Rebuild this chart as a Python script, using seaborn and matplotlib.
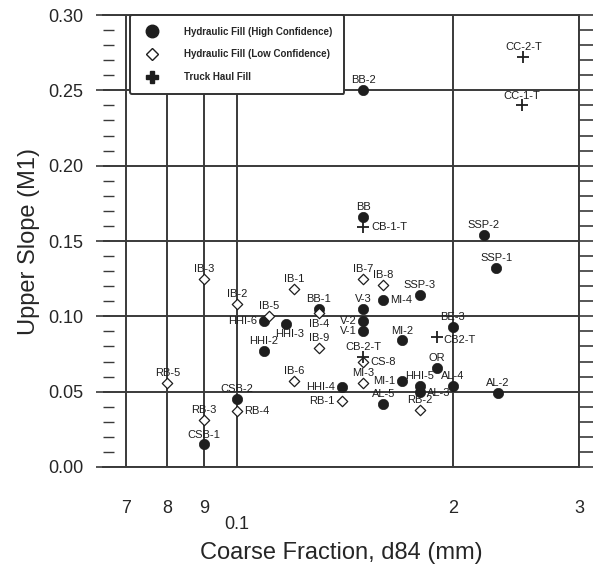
import numpy as np
import pandas as pd
import seaborn as sns
import matplotlib.pyplot as plt
from matplotlib.ticker import FixedLocator, FixedFormatter, MultipleLocator
from matplotlib.lines import Line2D

# hydraulic fill, high confidence (filled circles)
hi_names = ['BB-2', 'BB', 'SSP-2', 'SSP-1', 'SSP-3', 'MI-4', 'BE-3', 'V-3', 'V-2', 'V-1',
            'BB-1', 'MI-2', 'OR', 'AL-4', 'MI-1', 'HHI-5', 'AL-3', 'HHI-4', 'AL-5', 'AL-2',
            'HHI-6', 'HHI-3', 'HHI-2', 'CSB-2', 'CSB-1']
hi_d84 = [0.150, 0.150, 0.221, 0.230, 0.180, 0.160, 0.200, 0.150, 0.150, 0.150,
          0.130, 0.170, 0.190, 0.200, 0.170, 0.180, 0.180, 0.140, 0.160, 0.231,
          0.109, 0.117, 0.109, 0.100, 0.090]
hi_m1 = [0.250, 0.166, 0.154, 0.132, 0.114, 0.111, 0.093, 0.105, 0.097, 0.090,
         0.105, 0.084, 0.066, 0.054, 0.057, 0.054, 0.050, 0.053, 0.042, 0.049,
         0.097, 0.095, 0.077, 0.045, 0.015]

# hydraulic fill, low confidence (open diamonds)
lo_names = ['IB-3', 'IB-2', 'IB-1', 'IB-5', 'IB-7', 'IB-8', 'IB-4', 'IB-9', 'CS-8', 'IB-6',
            'RB-5', 'MI-3', 'RB-1', 'RB-2', 'RB-4', 'RB-3']
lo_d84 = [0.090, 0.100, 0.120, 0.111, 0.150, 0.160, 0.130, 0.130, 0.150, 0.120,
          0.080, 0.150, 0.140, 0.180, 0.100, 0.090]
lo_m1 = [0.125, 0.108, 0.118, 0.100, 0.125, 0.121, 0.102, 0.079, 0.070, 0.057,
         0.056, 0.056, 0.044, 0.038, 0.037, 0.031]

# truck haul fill (crosses)
th_names = ['CC-2-T', 'CC-1-T', 'CB-1-T', 'CB2-T', 'CB-2-T']
th_d84 = [0.251, 0.250, 0.150, 0.190, 0.150]
th_m1 = [0.272, 0.240, 0.159, 0.086, 0.073]

legend_labels = ['Hydraulic Fill (High Confidence)', 'Hydraulic Fill (Low Confidence)',
                 'Truck Haul Fill']
x_major = [0.1]
x_major_labels = ['0.1']
x_minor = [0.07, 0.08, 0.09, 0.2, 0.3]
x_minor_labels = ['7', '8', '9', '2', '3']

# labels that would sit on top of each other: (dx, dy in points, ha, va)
label_nudge = {
    'IB-4': (0, -4, 'center', 'top'),
    'V-2': (-5, 0, 'right', 'center'),
    'V-1': (-5, 0, 'right', 'center'),
    'CS-8': (5, 0, 'left', 'center'),
    'HHI-6': (-5, 0, 'right', 'center'),
    'HHI-3': (3, -4, 'center', 'top'),
    'AL-3': (5, -1, 'left', 'center'),
    'MI-1': (-5, 0, 'right', 'center'),
    'HHI-4': (-5, 0, 'right', 'center'),
    'RB-1': (-5, 0, 'right', 'center'),
    'CB-1-T': (6, 0, 'left', 'center'),
    'CB2-T': (5, -2, 'left', 'center'),
    'MI-4': (5, 0, 'left', 'center'),
    'RB-4': (5, 0, 'left', 'center'),
}

sns.set_style('white')
plt.rcParams['font.family'] = ['Liberation Sans', 'DejaVu Sans']

hi = pd.DataFrame({'name': hi_names, 'd84': hi_d84, 'm1': hi_m1})
lo = pd.DataFrame({'name': lo_names, 'd84': lo_d84, 'm1': lo_m1})
th = pd.DataFrame({'name': th_names, 'd84': th_d84, 'm1': th_m1})

fig = plt.figure(figsize=(6.05, 5.67), dpi=100)
ax = fig.add_axes([0.170, 0.1764, 0.787, 0.7971])

sns.scatterplot(data=hi, x='d84', y='m1', marker='o', s=55, color='#1e1e1e',
                edgecolor='#1e1e1e', linewidth=0.5, ax=ax, zorder=4, legend=False)
sns.scatterplot(data=lo, x='d84', y='m1', marker='D', s=28, facecolor='white',
                edgecolor='#1e1e1e', linewidth=0.9, ax=ax, zorder=4, legend=False)
sns.scatterplot(data=th, x='d84', y='m1', marker='+', s=75, color='#1e1e1e',
                linewidth=1.3, ax=ax, zorder=4, legend=False)

for df in (hi, lo, th):
    for _, r in df.iterrows():
        dx, dy, ha, va = label_nudge.get(r['name'], (0, 3.5, 'center', 'bottom'))
        ax.annotate(r['name'], (r['d84'], r['m1']), xytext=(dx, dy),
                    textcoords='offset points', ha=ha, va=va,
                    fontsize=8, color='#1e1e1e', zorder=5)

ax.set_xscale('log')
ax.set_xlim(0.065, 0.3)
ax.set_ylim(0, 0.30)

ax.xaxis.set_major_locator(FixedLocator(x_major))
ax.xaxis.set_major_formatter(FixedFormatter(x_major_labels))
ax.xaxis.set_minor_locator(FixedLocator(x_minor))
ax.xaxis.set_minor_formatter(FixedFormatter(x_minor_labels))
ax.yaxis.set_major_locator(MultipleLocator(0.05))
ax.yaxis.set_minor_locator(MultipleLocator(0.01))
ax.yaxis.set_major_formatter(plt.FormatStrFormatter('%.2f'))

gcol = '#3a3a3a'
ax.grid(True, axis='x', which='both', color=gcol, lw=1.4)
ax.grid(True, axis='y', which='major', color=gcol, lw=1.4)
ax.set_axisbelow(True)

for side in ['bottom', 'top', 'right']:
    ax.spines[side].set_color(gcol)
    ax.spines[side].set_linewidth(1.4)
ax.spines['left'].set_visible(False)

ax.tick_params(axis='x', which='major', direction='out', length=19, width=1.3,
               color=gcol, pad=16, labelsize=13)
ax.tick_params(axis='x', which='minor', direction='out', length=11, width=1.3,
               color=gcol, pad=13, labelsize=13)
ax.tick_params(axis='y', which='major', direction='inout', length=10, width=1.2,
               color=gcol, pad=9, labelsize=13, left=True)
ax.tick_params(axis='y', which='minor', direction='in', length=8, width=1.0,
               color=gcol, left=True)

right = ax.secondary_yaxis('right')
right.yaxis.set_major_locator(MultipleLocator(0.01))
right.tick_params(axis='y', which='major', direction='out', length=10, width=1.2,
                  color=gcol, labelright=False)
right.tick_params(axis='y', which='minor', length=0)
right.spines['right'].set_visible(False)

ax.set_xlabel('Coarse Fraction, d84 (mm)', fontsize=17, labelpad=7)
ax.set_ylabel('Upper Slope (M1)', fontsize=17, labelpad=6)

handles = [
    Line2D([], [], marker='o', ls='', color='#1e1e1e', ms=9),
    Line2D([], [], marker='D', ls='', mfc='white', mec='#1e1e1e', mew=1.0, ms=6.5),
    Line2D([], [], marker='P', ls='', color='#1e1e1e', ms=9),
]
leg = ax.legend(handles, legend_labels, loc='upper left', bbox_to_anchor=(0.057, 1.0),
                borderaxespad=0, fancybox=True, framealpha=1, edgecolor='#333333',
                prop={'weight': 'bold', 'size': 7}, borderpad=1.2, labelspacing=1.3,
                handlelength=2.2, handletextpad=2.2)
leg.get_frame().set_linewidth(1.4)
leg.set_zorder(6)

fig.savefig('out.png', dpi=100)
